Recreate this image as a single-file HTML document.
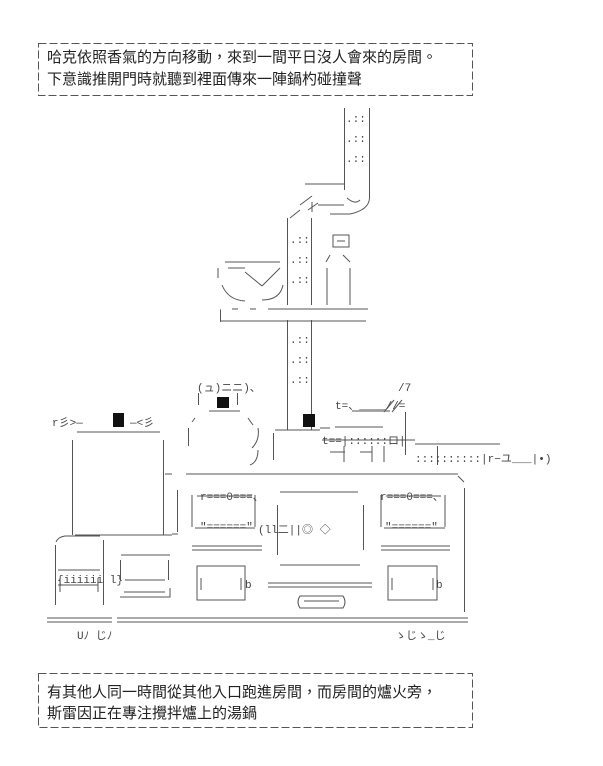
<!DOCTYPE html>
<html><head><meta charset="utf-8"><style>
html,body{margin:0;padding:0;background:#fff}
svg{display:block}
text{font-family:"Liberation Sans","Noto Sans CJK TC",sans-serif;fill:#222}
.m{font-family:"Liberation Mono","Noto Sans CJK JP",monospace;fill:#444;font-size:11px}
</style></head><body>
<svg width="603" height="766" viewBox="0 0 603 766" xmlns="http://www.w3.org/2000/svg">
<g fill="none" stroke="#555" stroke-width="1">
<rect x="38.5" y="43.5" width="434" height="52" stroke-dasharray="8,3"/>
<rect x="38.5" y="673.5" width="434" height="54" stroke-dasharray="8,3"/>
<path d="M344.5 108V190M369.5 108V198Q369 210 350 214H330"/>
<path d="M305 184H345M318 205H344M347 198Q355 205 360 200"/>
<path d="M300 205L312 196M308 210L318 203M312 202V212M290 218L300 210"/>
<path d="M287.5 218V305M311.5 218V305M287.5 320V430M311.5 320V430"/>
<path d="M220 309H368M220.5 309V322M220 321H366"/>
<path d="M220 309h12m6 0h12m6 0h12" stroke="#fff"/>
<path d="M225 262H280M228 268H245M245 272L262 286M262 286L280 268M218 268V278M222 285Q228 300 245 301M262 300Q280 300 283 285"/>
<path d="M333 235H349V247H333ZM337 241H345M330 255L326 262M343 255L350 262M327 268V305M350 268V305"/>
<path d="M198.5 393V405M237.5 393V405M209 411H240M195 418L192 422M248 418L253 425M188.5 428V446M258 428Q260 440 252 448M258 450Q258 462 250 465"/>
<path d="M275 430H320M273.5 433V460M320 428H330M335 427H383M405.5 412V455M384 412L394 400M392 412L402 400"/>
<path d="M352 411H390M322 440H415M330 452H345M360 452H372M372 446V462M344 446V462M384 446V462M415 444H500M437.5 446V465"/>
<path d="M77 432H160M72.5 440V535M163.5 440V535M75 535H172M165 474H172"/>
<path d="M186 474H458M458 476L464 482M464.5 488V612M163.5 490V532M177.5 490V532M172 534H178"/>
<path d="M192 495V527M255 495V527M197 496H252M195 528H255"/>
<path d="M192 546H262M192 550H262"/>
<path d="M197 566H245V600H197ZM201 578V590M241 578V590"/>
<path d="M280 492H358M277.5 505V555M363.5 505V550M280 565H360"/>
<path d="M268 583H372M268 587H372M300 596Q296 602 300 608H343Q347 602 343 596ZM304 601H339"/>
<path d="M381 495V527M445 495V527M386 496H441M384 528H445M381 546H450M381 550H450"/>
<path d="M388 566H437V600H388ZM392 578V590M433 578V590"/>
<path d="M56 542Q58 537 65 536H100M55.5 545V605M103.5 540V605M58 570H100M58 585H98M60 578V592M98 578V592"/>
<path d="M121 555H170M120.5 560V580M168.5 560V580M125 580H165M124 592H165M120 597H170V588"/>
<path d="M47 618H112M47 622H112M117 618H468M117 622H468"/>
</g>
<g fill="#111">
<rect x="217" y="397" width="12" height="11"/>
<rect x="303" y="414" width="12" height="13"/>
<rect x="113" y="413" width="11" height="14"/>
</g>
<text class="m" x="197" y="391">(ュ)ニニ)、</text>
<text class="m" x="335" y="409">t=、____//=</text>
<text class="m" x="398" y="391">/7</text>
<text class="m" x="322" y="444">t==|::::::ロ|</text>
<text class="m" x="415" y="462">::::::::::|r−ユ___|•)</text>
<text class="m" x="52" y="426">r彡>—</text>
<text class="m" x="130" y="426">—&lt;彡</text>
<text class="m" x="258" y="533">(ll二||◎ ◇</text>
<text class="m" x="200" y="500">r===0===、</text>
<text class="m" x="380" y="500">r===0===、</text>
<text class="m" x="200" y="530">"======"</text>
<text class="m" x="385" y="530">"======"</text>
<text class="m" x="245" y="588">b</text>
<text class="m" x="436" y="588">b</text>
<text class="m" x="57" y="583">{iiiiii l}</text>
<text class="m" x="77" y="639">Uﾉ じﾉ</text>
<text class="m" x="395" y="639">ゝじゝ_じ</text>
<text class="m" x="346" y="122">.::</text>
<text class="m" x="346" y="142">.::</text>
<text class="m" x="346" y="162">.::</text>
<text class="m" x="290" y="243">.::</text>
<text class="m" x="290" y="263">.::</text>
<text class="m" x="290" y="283">.::</text>
<text class="m" x="290" y="343">.::</text>
<text class="m" x="290" y="363">.::</text>
<text class="m" x="290" y="383">.::</text>
<text x="47" y="62" font-size="15">哈克依照香氣的方向移動，來到一間平日沒人會來的房間。</text>
<text x="47" y="84" font-size="15">下意識推開門時就聽到裡面傳來一陣鍋杓碰撞聲</text>
<text x="47" y="697" font-size="15">有其他人同一時間從其他入口跑進房間，而房間的爐火旁，</text>
<text x="47" y="718" font-size="15">斯雷因正在專注攪拌爐上的湯鍋</text>
</svg>
</body></html>
